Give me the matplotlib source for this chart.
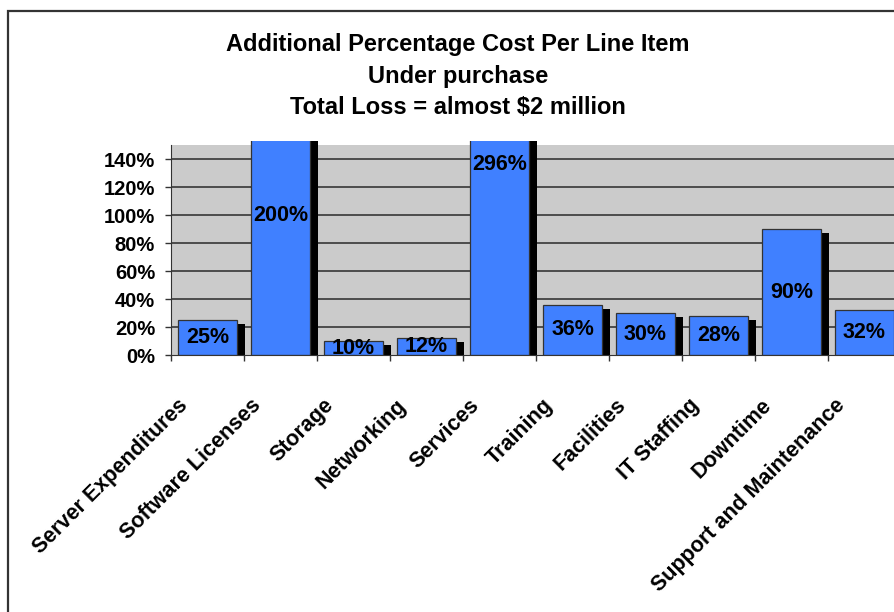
import matplotlib
matplotlib.use("Agg")
import matplotlib.pyplot as plt
from matplotlib.patches import Rectangle
from matplotlib.transforms import ScaledTranslation

categories = [
    "Server Expenditures", "Software Licenses", "Storage", "Networking",
    "Services", "Training", "Facilities", "IT Staffing", "Downtime",
    "Support and Maintenance",
]
values = [25, 200, 10, 12, 296, 36, 30, 28, 90, 32]
yticks = [0, 20, 40, 60, 80, 100, 120, 140]
title_lines = [
    "Additional Percentage Cost Per Line Item",
    "Under purchase",
    "Total Loss = almost $2 million",
]

plt.rcParams["font.family"] = ["Liberation Sans", "DejaVu Sans"]
plt.rcParams["font.weight"] = "bold"

BLUE = "#4080ff"
GRAY = "#cbcbcb"

fig = plt.figure(figsize=(8.94, 6.12), dpi=100)
ax = fig.add_axes([171 / 894, 1 - 355 / 612, 730 / 894, 214 / 612])
ax.set_xlim(0, len(categories))
ax.set_ylim(0, 152.9)
ax.set_facecolor("none")

# gray plot area stops a little below the clipped bar tops
ax.axhspan(0, 150, color=GRAY, zorder=0, lw=0)
for t in yticks[1:]:
    ax.axhline(t, color="#2a2a2a", lw=1.1, zorder=1)

xs = [i + 0.5 for i in range(len(categories))]
width = 0.795
dx = 8 / 73
dy = 4 / 1.4
ax.bar([x + dx for x in xs], [v - dy for v in values], width=width,
       color="black", zorder=2, lw=0)
ax.bar(xs, values, width=width, color=BLUE, edgecolor="#333333",
       lw=0.9, zorder=3)

for x, v in zip(xs, values):
    ax.text(x, min(v / 2, 136), f"{v}%", ha="center", va="center",
            fontsize=15.5, fontweight="bold", zorder=4)

# axes / ticks
for s in ("top", "right"):
    ax.spines[s].set_visible(False)
ax.spines["left"].set_bounds(0, 150)
ax.spines["left"].set_color("#333333")
ax.spines["bottom"].set_color("#333333")
ax.spines["left"].set_zorder(5)
ax.spines["bottom"].set_zorder(5)

ax.set_yticks(yticks)
ax.set_yticklabels([f"{t}%" for t in yticks])
ax.tick_params(axis="y", length=4.5, width=1, pad=7, labelsize=14.5,
               color="#333333")

ax.set_xticks(range(len(categories) + 1), minor=True)
ax.set_xticks(xs)
ax.set_xticklabels(categories, rotation=45, ha="right", va="center",
                   rotation_mode="anchor", fontsize=15.5)
ax.tick_params(axis="x", which="major", length=0, pad=34)
ax.tick_params(axis="x", which="minor", length=4.5, width=1, color="#333333")
shift = ScaledTranslation(-0.23, 0, fig.dpi_scale_trans)
for lab in ax.get_xticklabels():
    lab.set_transform(lab.get_transform() + shift)

for i, line in enumerate(title_lines):
    fig.text(458 / 894, 1 - (45 + 31 * i) / 612, line, ha="center",
             va="center", fontsize=17, fontweight="bold")

# chart border (runs off the right and bottom edges)
fig.add_artist(Rectangle((8 / 894, -0.1), 2, 1.1 - 11 / 612,
                         transform=fig.transFigure, fill=False,
                         edgecolor="#333333", lw=1.6))

fig.savefig("out.png", dpi=100)
